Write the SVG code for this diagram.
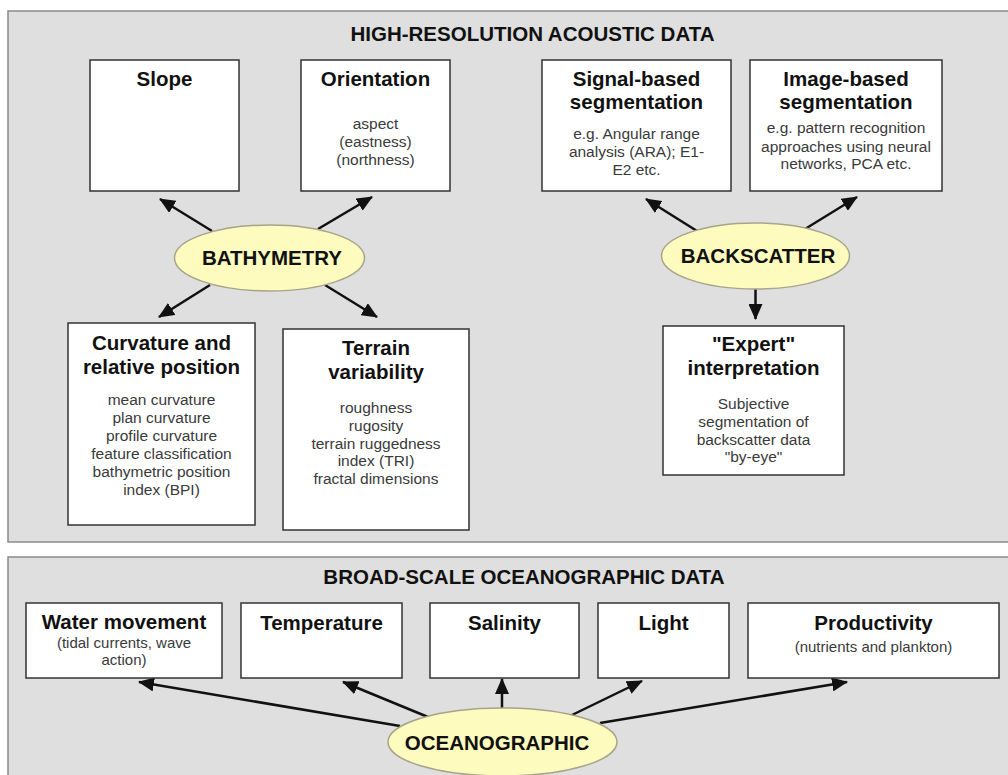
<svg xmlns="http://www.w3.org/2000/svg" width="1008" height="775" viewBox="0 0 1008 775">
<defs>
<style>
.panel{fill:#dfdfdf;stroke:#8a8a8a;stroke-width:1.5}
.box{fill:#ffffff;stroke:#333333;stroke-width:1.5}
.ell{fill:#fdfbbd;stroke:#a8a48a;stroke-width:1.5}
.t{font-family:"Liberation Sans",Arial,sans-serif;font-weight:bold;font-size:20.5px;fill:#111111;text-anchor:middle}
.s{font-family:"Liberation Sans",Arial,sans-serif;font-size:15.5px;fill:#3a3a3a;text-anchor:middle}
.c{stroke:#111111;stroke-width:2.5;fill:none;marker-end:url(#ah)}
</style>
<marker id="ah" markerUnits="userSpaceOnUse" markerWidth="16" markerHeight="14" refX="15" refY="7" orient="auto">
<path d="M0,0 L16,7 L0,14 z" fill="#111111"/>
</marker>
</defs>

<g id="panel-acoustic">
<rect class="panel" x="8" y="11" width="1012" height="531"/>
<text class="t" x="532.5" y="41">HIGH-RESOLUTION ACOUSTIC DATA</text>
</g>
<g id="panel-oceanographic">
<rect class="panel" x="8" y="557" width="1012" height="230"/>
<text class="t" x="524" y="584">BROAD-SCALE OCEANOGRAPHIC DATA</text>
</g>

<g id="connectors">
<line class="c" x1="212" y1="231" x2="160" y2="199"/>
<line class="c" x1="318" y1="229" x2="372" y2="197"/>
<line class="c" x1="210" y1="285" x2="159" y2="317"/>
<line class="c" x1="325" y1="285" x2="377" y2="317"/>
<line class="c" x1="697" y1="231" x2="646" y2="199"/>
<line class="c" x1="805" y1="229" x2="857" y2="197"/>
<line class="c" x1="755.5" y1="289" x2="755.5" y2="319"/>
<line class="c" x1="400" y1="726" x2="139" y2="682"/>
<line class="c" x1="428" y1="717" x2="343" y2="682"/>
<line class="c" x1="502" y1="709" x2="502" y2="679"/>
<line class="c" x1="572" y1="715" x2="642" y2="681"/>
<line class="c" x1="600" y1="723" x2="847" y2="682"/>
</g>

<g id="slope">
<rect class="box" x="90" y="60" width="149" height="131"/>
<text class="t" x="164.5" y="86">Slope</text>
</g>
<g id="orientation">
<rect class="box" x="301" y="60" width="149" height="131"/>
<text class="t" x="375.5" y="86">Orientation</text>
<text class="s" x="375.5" y="129">aspect</text>
<text class="s" x="375.5" y="147">(eastness)</text>
<text class="s" x="375.5" y="165">(northness)</text>
</g>
<g id="bathymetry">
<ellipse class="ell" cx="269.5" cy="258" rx="95" ry="33"/>
<text class="t" x="272" y="265">BATHYMETRY</text>
</g>
<g id="curvature">
<rect class="box" x="68" y="323" width="187" height="202"/>
<text class="t" x="161.5" y="350">Curvature and</text>
<text class="t" x="161.5" y="374">relative position</text>
<text class="s" x="161.5" y="405">mean curvature</text>
<text class="s" x="161.5" y="423">plan curvature</text>
<text class="s" x="161.5" y="441">profile curvature</text>
<text class="s" x="161.5" y="459">feature classification</text>
<text class="s" x="161.5" y="477">bathymetric position</text>
<text class="s" x="161.5" y="495">index (BPI)</text>
</g>
<g id="terrain">
<rect class="box" x="283" y="329" width="186" height="201"/>
<text class="t" x="376" y="355">Terrain</text>
<text class="t" x="376" y="379">variability</text>
<text class="s" x="376" y="413">roughness</text>
<text class="s" x="376" y="431">rugosity</text>
<text class="s" x="376" y="449">terrain ruggedness</text>
<text class="s" x="376" y="466">index (TRI)</text>
<text class="s" x="376" y="484">fractal dimensions</text>
</g>
<g id="signal">
<rect class="box" x="542" y="60" width="189" height="131"/>
<text class="t" x="636.5" y="86">Signal-based</text>
<text class="t" x="636.5" y="109">segmentation</text>
<text class="s" x="636.5" y="139">e.g. Angular range</text>
<text class="s" x="636.5" y="157">analysis (ARA); E1-</text>
<text class="s" x="636.5" y="175">E2 etc.</text>
</g>
<g id="image">
<rect class="box" x="750" y="60" width="192" height="131"/>
<text class="t" x="846" y="86">Image-based</text>
<text class="t" x="846" y="109">segmentation</text>
<text class="s" x="846" y="133">e.g. pattern recognition</text>
<text class="s" x="846" y="152">approaches using neural</text>
<text class="s" x="846" y="169">networks, PCA etc.</text>
</g>
<g id="backscatter">
<ellipse class="ell" cx="755.5" cy="256" rx="94" ry="33"/>
<text class="t" x="758" y="263">BACKSCATTER</text>
</g>
<g id="expert">
<rect class="box" x="663" y="326" width="181" height="149"/>
<text class="t" x="753.5" y="351">"Expert"</text>
<text class="t" x="753.5" y="375">interpretation</text>
<text class="s" x="753.5" y="409">Subjective</text>
<text class="s" x="753.5" y="427">segmentation of</text>
<text class="s" x="753.5" y="445">backscatter data</text>
<text class="s" x="753.5" y="462">"by-eye"</text>
</g>

<g id="water">
<rect class="box" x="26" y="603" width="196" height="75"/>
<text class="t" x="124" y="629">Water movement</text>
<text class="s" x="124" y="648" style="font-size:15px">(tidal currents, wave</text>
<text class="s" x="124" y="665" style="font-size:15px">action)</text>
</g>
<g id="temperature">
<rect class="box" x="241" y="603" width="161" height="75"/>
<text class="t" x="321.5" y="630">Temperature</text>
</g>
<g id="salinity">
<rect class="box" x="430" y="603" width="149" height="75"/>
<text class="t" x="504.5" y="630">Salinity</text>
</g>
<g id="light">
<rect class="box" x="598" y="603" width="131" height="75"/>
<text class="t" x="663.5" y="630">Light</text>
</g>
<g id="productivity">
<rect class="box" x="748" y="603" width="251" height="75"/>
<text class="t" x="873.5" y="630">Productivity</text>
<text class="s" x="873.5" y="652" style="font-size:15px">(nutrients and plankton)</text>
</g>
<g id="oceanographic">
<ellipse class="ell" cx="502.5" cy="742" rx="114.5" ry="34"/>
<text class="t" x="497" y="750">OCEANOGRAPHIC</text>
</g>
</svg>
